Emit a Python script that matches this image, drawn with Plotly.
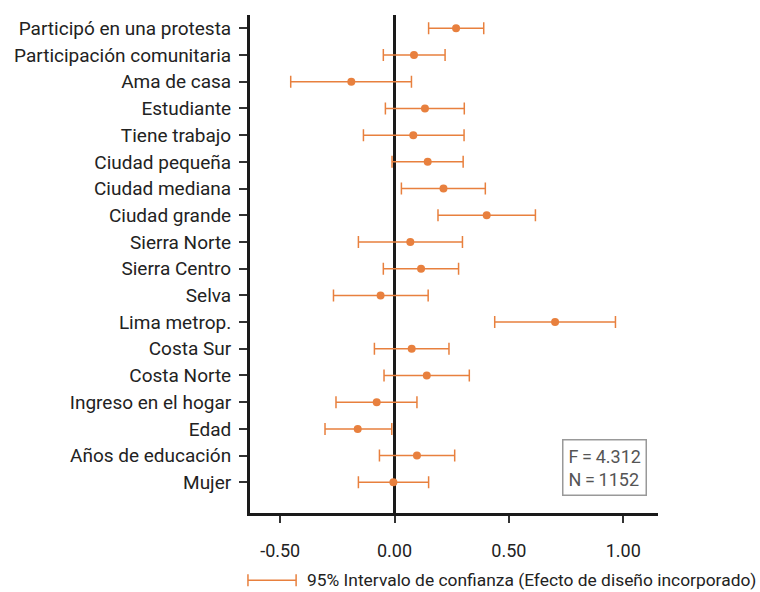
import plotly.graph_objects as go

categories = ["Participó en una protesta", "Participación comunitaria", "Ama de casa",
              "Estudiante", "Tiene trabajo", "Ciudad pequeña", "Ciudad mediana",
              "Ciudad grande", "Sierra Norte", "Sierra Centro", "Selva", "Lima metrop.",
              "Costa Sur", "Costa Norte", "Ingreso en el hogar", "Edad",
              "Años de educación", "Mujer"]
estimate = [0.269, 0.085, -0.189, 0.133, 0.082, 0.145, 0.214, 0.403, 0.069, 0.116,
            -0.061, 0.702, 0.075, 0.141, -0.078, -0.161, 0.098, -0.005]
ci_low = [0.149, -0.049, -0.454, -0.040, -0.136, -0.011, 0.030, 0.190, -0.158, -0.049,
          -0.267, 0.438, -0.088, -0.046, -0.256, -0.304, -0.066, -0.158]
ci_high = [0.390, 0.221, 0.074, 0.305, 0.304, 0.300, 0.397, 0.616, 0.297, 0.280,
           0.147, 0.966, 0.238, 0.327, 0.098, -0.012, 0.263, 0.149]
x_ticks = [-0.5, 0.0, 0.5, 1.0]
x_tick_labels = ["-0.50", "0.00", "0.50", "1.00"]
stats_text = "F\u2009=\u20094.312<br>N\u2009=\u20091152"
legend_text = "95% Intervalo de confianza (Efecto de diseño incorporado)"

ORANGE = "#E8803E"
FONT = "Roboto, sans-serif"

plus = [h - e for h, e in zip(ci_high, estimate)]
minus = [e - l for e, l in zip(estimate, ci_low)]
ypos = list(range(len(categories)))

fig = go.Figure()
fig.add_trace(go.Scatter(
    x=estimate, y=ypos, mode="markers",
    marker=dict(color=ORANGE, size=8),
    error_x=dict(type="data", symmetric=False, array=plus, arrayminus=minus,
                 color=ORANGE, thickness=1.5, width=6),
    showlegend=False, hoverinfo="skip"))

fig.update_layout(
    width=760, height=592,
    margin=dict(l=250, r=102, t=15, b=79),
    paper_bgcolor="white", plot_bgcolor="white",
    font=dict(family=FONT, color="#222222", size=19),
    xaxis=dict(range=[-0.632, 1.152], tickvals=x_ticks, ticktext=x_tick_labels,
               showgrid=False, zeroline=True, zerolinecolor="#1a1a1a", zerolinewidth=3,
               showline=True, linecolor="#1a1a1a", linewidth=3,
               ticks="outside", ticklen=7, tickwidth=2, tickcolor="#333",
               ticklabelstandoff=12, tickfont=dict(size=18)),
    yaxis=dict(range=[len(categories) - 1 + 1.15, -0.5], tickvals=ypos, ticktext=categories,
               showgrid=False, zeroline=False,
               showline=True, linecolor="#1a1a1a", linewidth=3,
               ticks="outside", ticklen=8, tickwidth=2, tickcolor="#333",
               ticklabelstandoff=4, tickfont=dict(size=19)),
)

# statistics box
fig.add_annotation(xref="paper", yref="paper", x=0.87, y=0.034, xanchor="center", yanchor="bottom",
                   text=stats_text, showarrow=False, align="left",
                   font=dict(size=18, color="#555555"),
                   bordercolor="#999999", borderwidth=1.5, borderpad=5, bgcolor="white")

# legend
fig.add_shape(type="line", xref="paper", yref="paper", x0=-0.005, x1=0.113, y0=-0.135, y1=-0.135,
              line=dict(color=ORANGE, width=1.5))
for xx in (-0.005, 0.113):
    fig.add_shape(type="line", xref="paper", yref="paper", x0=xx, x1=xx, y0=-0.123, y1=-0.147,
                  line=dict(color=ORANGE, width=1.5))
fig.add_annotation(xref="paper", yref="paper", x=0.135, y=-0.135, xanchor="left", yanchor="middle",
                   text=legend_text, showarrow=False, font=dict(size=17.4, color="#222222"))

fig.write_html("out.html", config={"displayModeBar": False},
               post_script="document.body.style.margin='0';")
